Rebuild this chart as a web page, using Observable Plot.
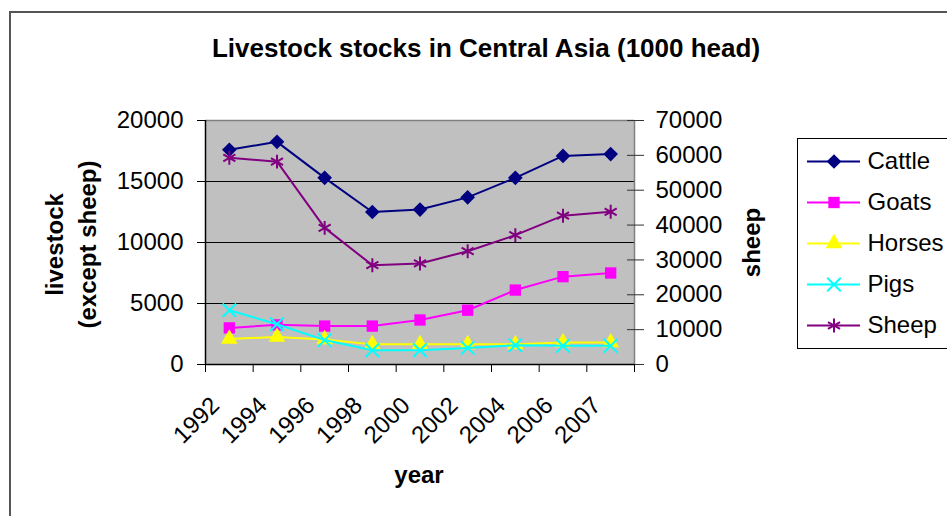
<!DOCTYPE html>
<html>
<head>
<meta charset="utf-8">
<script src="https://cdn.jsdelivr.net/npm/d3@7"></script>
<script src="https://cdn.jsdelivr.net/npm/@observablehq/plot@0.6"></script>
<style>
  html, body { margin: 0; padding: 0; background: #fff; overflow: hidden; width: 947px; height: 516px; }
  #chart { position: relative; width: 947px; height: 516px; font-family: "Liberation Sans", Arial, sans-serif; }
  #main { position: absolute; left: 0; top: 0; }
  #legend { position: absolute; left: 797px; top: 138px; width: 200px; height: 209px; border: 1px solid #000; background: #fff; }
  #border { position: absolute; left: 9px; top: 11px; width: 1200px; height: 800px; border: 2px solid #555; pointer-events: none; }
</style>
</head>
<body>
<div id="chart">
  <div id="main"></div>
  <div id="legend"></div>
  <div id="border"></div>
</div>
<script>
// Livestock stocks in Central Asia, thousands of head
const years  = ["1992", "1994", "1996", "1998", "2000", "2002", "2004", "2006", "2007"];
const cattle = [17600, 18250, 15300, 12500, 12700, 13700, 15300, 17100, 17250];
const goats  = [3000, 3250, 3150, 3150, 3650, 4450, 6100, 7200, 7500];
const horses = [2100, 2250, 2050, 1650, 1650, 1650, 1650, 1800, 1800];
const pigs   = [4450, 3300, 2000, 1170, 1170, 1360, 1580, 1530, 1530];
const sheep  = [59300, 58200, 39200, 28500, 29000, 32500, 37100, 42700, 43800];

const seriesNames   = ["Cattle", "Goats", "Horses", "Pigs", "Sheep"];
const seriesValues  = [cattle, goats, horses, pigs, sheep];
const seriesColors  = ["#000080", "#ff00ff", "#ffff00", "#00ffff", "#800080"];
const seriesSymbols = ["diamond2", "square", "triangle", "times", "asterisk"];
const seriesFilled  = [true, true, true, false, false];
const seriesR       = [6.6, 6.4, 6.2, 6.2, 6.6];

const leftTicks  = [0, 5000, 10000, 15000, 20000];
const rightTicks = [0, 10000, 20000, 30000, 40000, 50000, 60000, 70000];
const gridLines  = [5000, 10000, 15000];

// Sheep are read against the secondary axis (0–70000) sharing the primary y scale (0–20000)
const sheepRatio = 70000 / 20000;

const font = "'Liberation Sans', Arial, sans-serif";
const xBounds = d3.range(-0.5, years.length, 1);
const xCenters = d3.range(years.length);
const blank = () => "";

function rowsFor(k) {
  const name = seriesNames[k];
  return seriesValues[k].map((v, i) => ({
    name, i, v, y: name === "Sheep" ? v / sheepRatio : v
  }));
}

function dotStyle(k) {
  return seriesFilled[k]
    ? { fill: seriesColors[k], stroke: "none" }
    : { fill: "none", stroke: seriesColors[k], strokeWidth: 2 };
}

const seriesMarks = seriesNames.flatMap((name, k) => {
  const rows = rowsFor(k);
  return [
    Plot.line(rows, { x: "i", y: "y", stroke: seriesColors[k], strokeWidth: 2 }),
    Plot.dot(rows, { x: "i", y: "y", symbol: seriesSymbols[k], r: seriesR[k], ...dotStyle(k) })
  ];
});

const main = Plot.plot({
  width: 947,
  height: 516,
  marginLeft: 205,
  marginRight: 313,
  marginTop: 120,
  marginBottom: 152,
  style: { background: "transparent", fontFamily: font, overflow: "visible", color: "#000" },
  x: { type: "linear", domain: [-0.5, years.length - 0.5], axis: null, label: null },
  y: { domain: [0, 20000], axis: null, label: null },
  marks: [
    Plot.frame({ fill: "#c0c0c0", stroke: "none" }),
    Plot.ruleY(gridLines, { stroke: "#000", strokeWidth: 1 }),
    Plot.ruleY([20000], { stroke: "#808080", strokeWidth: 1.5 }),
    Plot.ruleX([years.length - 0.5], { stroke: "#808080", strokeWidth: 1.5 }),

    // primary axis
    Plot.axisY({ anchor: "left", ticks: leftTicks, tickFormat: d3.format("d"), tickSize: 8, tickPadding: 14, fontSize: 24, label: null }),
    // secondary axis (sheep): crossing tick marks, then labels
    Plot.axisY({ anchor: "right", ticks: rightTicks.map(v => v / sheepRatio), tickFormat: blank, tickSize: 17, dx: -8, stroke: "#333", label: null }),
    Plot.axisY({ anchor: "right", ticks: rightTicks.map(v => v / sheepRatio), tickFormat: d => String(Math.round(d * sheepRatio)), tickSize: 0, tickPadding: 21, fontSize: 24, label: null }),
    // category axis: tick marks on band edges, labels at category centres
    Plot.axisX({ anchor: "bottom", ticks: xBounds, tickFormat: blank, tickSize: 8, label: null }),
    Plot.axisX({ anchor: "bottom", ticks: xCenters, tickFormat: i => years[i], tickSize: 0, tickPadding: 0, tickRotate: -45, fontSize: 24, dx: -14, dy: 37, label: null }),

    Plot.ruleX([-0.5], { stroke: "#000", strokeWidth: 1.5 }),
    Plot.ruleY([0], { stroke: "#000", strokeWidth: 1.5 }),

    ...seriesMarks,

    // titles
    Plot.text(["Livestock stocks in Central Asia (1000 head)"], { frameAnchor: "top", dx: 66, dy: -82, fontSize: 26, fontWeight: "bold" }),
    Plot.text(["livestock\n(except sheep)"], { frameAnchor: "left", textAnchor: "middle", lineAnchor: "middle", rotate: -90, dx: -137, dy: 2, fontSize: 24, fontWeight: "bold", lineHeight: 1.375 }),
    Plot.text(["sheep"], { frameAnchor: "right", textAnchor: "middle", lineAnchor: "middle", rotate: -90, dx: 118, dy: 0, fontSize: 24, fontWeight: "bold" }),
    Plot.text(["year"], { frameAnchor: "bottom", dx: -1, dy: 118, fontSize: 24, fontWeight: "bold" })
  ]
});
document.getElementById("main").appendChild(main);

// legend: one sample line with its marker per series
const legend = Plot.plot({
  width: 200,
  height: 209,
  margin: 0,
  style: { background: "transparent", fontFamily: font, overflow: "visible", color: "#000" },
  x: { type: "linear", domain: [0, 1], range: [9, 62], axis: null },
  y: { type: "point", domain: seriesNames, range: [21, 186], padding: 0, axis: null },
  marks: [
    ...seriesNames.flatMap((name, k) => [
      Plot.ruleY([name], { x1: 0, x2: 1, stroke: seriesColors[k], strokeWidth: 2 }),
      Plot.dot([name], { x: 0.5, y: d => d, symbol: seriesSymbols[k], r: seriesR[k], ...dotStyle(k) })
    ]),
    Plot.text(seriesNames, { x: 1, y: d => d, dx: 7, textAnchor: "start", fontSize: 24 })
  ]
});
document.getElementById("legend").appendChild(legend);
</script>
</body>
</html>
